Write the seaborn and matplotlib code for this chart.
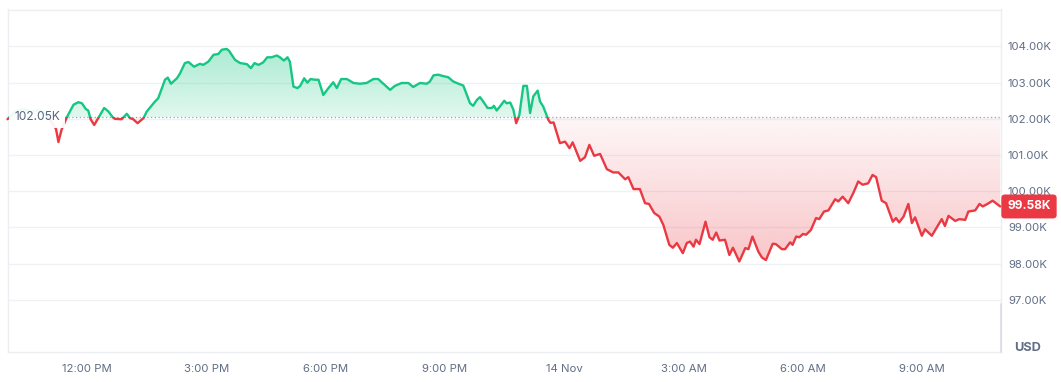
import numpy as np
import pandas as pd
import matplotlib
matplotlib.use("Agg")
import matplotlib.pyplot as plt
import matplotlib.colors as mcolors
from matplotlib.patches import Rectangle, PathPatch
from matplotlib.path import Path
from matplotlib.transforms import blended_transform_factory
import seaborn as sns

# ---------------- data (hours after 12:00 PM, 13 Nov ; price in thousands USD) -------------
hours = [-2.00, -1.80, -1.60, -1.40, -1.20, -1.00, -0.86, -0.78, -0.72, -0.64, -0.51, -0.34,
         -0.22, -0.13, -0.03, 0.03, 0.09, 0.18, 0.28, 0.43, 0.54, 0.65, 0.70, 0.87, 1.00,
         1.08, 1.16, 1.27, 1.42, 1.50, 1.71, 1.79, 1.96, 2.03, 2.11, 2.26, 2.34, 2.46, 2.55,
         2.69, 2.84, 2.92, 3.05, 3.18, 3.30, 3.39, 3.51, 3.57, 3.72, 3.85, 4.02, 4.12, 4.21,
         4.31, 4.43, 4.53, 4.64, 4.77, 4.85, 4.95, 5.04, 5.10, 5.19, 5.29, 5.36, 5.46, 5.54,
         5.62, 5.73, 5.82, 5.94, 6.07, 6.19, 6.28, 6.39, 6.53, 6.70, 6.86, 7.03, 7.20, 7.32,
         7.45, 7.62, 7.74, 7.91, 8.08, 8.20, 8.37, 8.54, 8.62, 8.71, 8.83, 8.92, 9.08, 9.21,
         9.34, 9.46, 9.55, 9.63, 9.71, 9.80, 9.88, 9.96, 10.07, 10.18, 10.23, 10.30, 10.38,
         10.49, 10.55, 10.64, 10.72, 10.79, 10.87, 10.97, 11.06, 11.14, 11.22, 11.33, 11.39,
         11.47, 11.60, 11.65, 11.73, 11.89, 12.02, 12.13, 12.21, 12.40, 12.52, 12.63, 12.75,
         12.90, 13.07, 13.23, 13.36, 13.53, 13.61, 13.74, 13.90, 14.03, 14.13, 14.26, 14.39,
         14.49, 14.64, 14.73, 14.83, 14.98, 15.08, 15.16, 15.25, 15.31, 15.40, 15.55, 15.65,
         15.73, 15.82, 15.90, 16.04, 16.15, 16.24, 16.40, 16.55, 16.63, 16.73, 16.88, 16.97,
         17.07, 17.24, 17.32, 17.47, 17.55, 17.68, 17.74, 17.83, 17.91, 18.00, 18.08, 18.20,
         18.33, 18.41, 18.53, 18.64, 18.81, 18.89, 19.00, 19.14, 19.27, 19.39, 19.50, 19.64,
         19.75, 19.84, 19.98, 20.09, 20.26, 20.34, 20.42, 20.53, 20.65, 20.74, 20.82, 20.99,
         21.07, 21.24, 21.49, 21.57, 21.66, 21.83, 21.93, 22.08, 22.16, 22.33, 22.44, 22.52,
         22.64, 22.77, 22.96]
prices = [101.99, 102.20, 102.28, 102.20, 102.24, 102.10, 101.85, 101.72, 101.36, 101.70, 102.04, 102.39,
          102.46, 102.43, 102.27, 102.23, 101.99, 101.83, 102.02, 102.30, 102.20, 102.04, 102.00, 101.99, 102.14,
          102.02, 101.99, 101.88, 102.02, 102.20, 102.48, 102.57, 103.08, 103.14, 102.97, 103.12, 103.26, 103.54, 103.57,
          103.44, 103.52, 103.49, 103.58, 103.77, 103.79, 103.91, 103.93, 103.88, 103.63, 103.54, 103.51, 103.40, 103.54,
          103.49, 103.56, 103.70, 103.70, 103.75, 103.70, 103.61, 103.70, 103.58, 102.89, 102.85, 102.91, 103.12, 103.00,
          103.10, 103.08, 103.08, 102.66, 102.85, 103.01, 102.85, 103.10, 103.10, 102.99, 102.97, 102.99, 103.10, 103.10,
          102.97, 102.80, 102.91, 102.99, 102.99, 102.88, 102.99, 102.97, 103.03, 103.20, 103.22, 103.19, 103.15, 103.03,
          102.97, 102.92, 102.66, 102.43, 102.36, 102.52, 102.60, 102.48, 102.30, 102.30, 102.36, 102.23, 102.34,
          102.50, 102.43, 102.45, 102.25, 101.88, 102.11, 102.91, 102.91, 102.16, 102.62, 102.78, 102.48,
          102.34, 101.97, 101.89, 101.90, 101.33, 101.37, 101.19, 101.35, 100.84, 100.94, 101.28, 100.98,
          101.03, 100.61, 100.52, 100.52, 100.33, 100.39, 100.06, 100.06, 99.67, 99.65, 99.40, 99.30,
          99.07, 98.52, 98.44, 98.57, 98.29, 98.57, 98.61, 98.47, 98.66, 98.54, 99.16, 98.73,
          98.66, 98.86, 98.64, 98.66, 98.24, 98.44, 98.06, 98.43, 98.40, 98.75, 98.33, 98.17,
          98.10, 98.55, 98.54, 98.40, 98.40, 98.59, 98.52, 98.75, 98.73, 98.82, 98.80, 98.93,
          99.26, 99.23, 99.44, 99.47, 99.78, 99.72, 99.85, 99.67, 99.96, 100.27, 100.18, 100.22,
          100.45, 100.39, 99.74, 99.67, 99.16, 99.26, 99.14, 99.30, 99.65, 99.12, 99.28, 98.77,
          98.95, 98.77, 99.23, 99.04, 99.32, 99.18, 99.23, 99.21, 99.44, 99.47, 99.65, 99.58,
          99.65, 99.74, 99.58]

baseline = 102.05
baseline_label = "102.05K"
last_label = "99.58K"
y_ticks = [97, 98, 99, 100, 101, 102, 103, 104]
y_tick_labels = ["97.00K", "98.00K", "99.00K", "100.00K", "101.00K", "102.00K", "103.00K", "104.00K"]
x_ticks = [0, 3, 6, 9, 12, 15, 18, 21]
x_tick_labels = ["12:00 PM", "3:00 PM", "6:00 PM", "9:00 PM", "14 Nov", "3:00 AM", "6:00 AM", "9:00 AM"]
currency = "USD"

GREEN = "#16c784"
RED = "#ea3943"
GRAY = "#616e85"
GRID = "#eff2f5"

# ---------------- figure ----------------
sns.set_theme(style="white")
plt.rcParams['font.family'] = ['Inter', 'DejaVu Sans']

W, H = 1061, 382
fig = plt.figure(figsize=(W / 100, H / 100), dpi=100)
L, R, T, B = 7.5, 1001, 9.5, 352
ax = fig.add_axes([L / W, 1 - B / H, (R - L) / W, (B - T) / H])
XMIN, XMAX = -2.0, 22.98
YMIN, YMAX = 95.56, 105.02

# insert the crossing points with the baseline
h = np.array(hours)
p = np.array(prices)
xs, ys = [h[0]], [p[0]]
for i in range(1, len(h)):
    a, b = p[i - 1] - baseline, p[i] - baseline
    if a * b < 0:
        xs.append(h[i - 1] + (h[i] - h[i - 1]) * a / (a - b))
        ys.append(baseline)
    xs.append(h[i])
    ys.append(p[i])
xs = np.array(xs)
ys = np.array(ys)
df = pd.DataFrame({"hour": xs, "price": ys})


def gradient_fill(upper, lower, color, a_bottom, a_top, y0, y1):
    verts = np.concatenate([np.column_stack([xs, upper]),
                            np.column_stack([xs[::-1], lower[::-1]])])
    path = Path(verts, closed=False)
    patch = PathPatch(path, transform=ax.transData, fc="none", ec="none")
    ax.add_patch(patch)
    rgb = mcolors.to_rgb(color)
    z = np.zeros((256, 1, 4))
    z[:, :, :3] = rgb
    z[:, 0, 3] = np.linspace(a_bottom, a_top, 256)
    im = ax.imshow(z, aspect="auto", extent=[XMIN, XMAX, y0, y1],
                   origin="lower", zorder=1, interpolation="bilinear")
    im.set_clip_path(patch)


base_arr = np.full_like(xs, baseline)
gradient_fill(np.maximum(ys, baseline), base_arr, GREEN, 0.13, 0.38, baseline, 104.1)
gradient_fill(base_arr, np.minimum(ys, baseline), RED, 0.30, 0.04, 97.9, baseline)

# lines, coloured above / below the baseline
for color, rect_y, rect_h in [(GREEN, baseline, 20), (RED, baseline - 20, 20)]:
    n = len(ax.lines)
    sns.lineplot(data=df, x="hour", y="price", color=color, lw=1.7, ax=ax,
                 zorder=3, estimator=None, sort=False)
    line = ax.lines[n]
    clip = Rectangle((XMIN - 5, rect_y), 40, rect_h, transform=ax.transData)
    line.set_clip_path(clip)

ax.axhline(baseline, color="#9aa3b1", lw=0.9, ls=(0, (1, 2)), zorder=2)

ax.set_xlim(XMIN, XMAX)
ax.set_ylim(YMIN, YMAX)

# axes cosmetics
ax.set_yticks(y_ticks, y_tick_labels)
ax.set_xticks(x_ticks, x_tick_labels)
ax.yaxis.tick_right()
ax.grid(axis="y", color=GRID, lw=1, zorder=0)
ax.grid(axis="x", visible=False)
ax.tick_params(axis="y", length=0, pad=5, labelsize=8.2, labelcolor=GRAY)
ax.tick_params(axis="x", length=0, pad=9, labelsize=8.2, labelcolor=GRAY)
ax.set_xlabel("")
ax.set_ylabel("")
for s in ax.spines.values():
    s.set_color("#eceef2")
    s.set_linewidth(1)
ax.plot([1, 1], [0, 0.14], transform=ax.transAxes, color="#d9dde3", lw=1.2,
        clip_on=False, zorder=4)

# baseline label (covers the very start of the line, like the reference)
ax.text(XMIN + 0.17, baseline, baseline_label, ha="left", va="center", fontsize=8.6,
        color="#58667e", zorder=5,
        bbox=dict(boxstyle="square,pad=0.45", fc="white", ec="none", alpha=0.93))

# last-price tag
tr = blended_transform_factory(ax.transAxes, ax.transData)
ax.text((1029 - L) / (R - L), prices[-1], last_label, transform=tr, ha="center",
        va="center", fontsize=8.6, fontweight="bold", color="white", zorder=6,
        clip_on=False,
        bbox=dict(boxstyle="round,pad=0.5,rounding_size=0.3", fc=RED, ec="none"))

fig.text(1028 / W, 1 - 348 / H, currency, ha="center", va="center", fontsize=9.2,
         fontweight="bold", color=GRAY)

fig.savefig("out.png", dpi=100, facecolor="white")
